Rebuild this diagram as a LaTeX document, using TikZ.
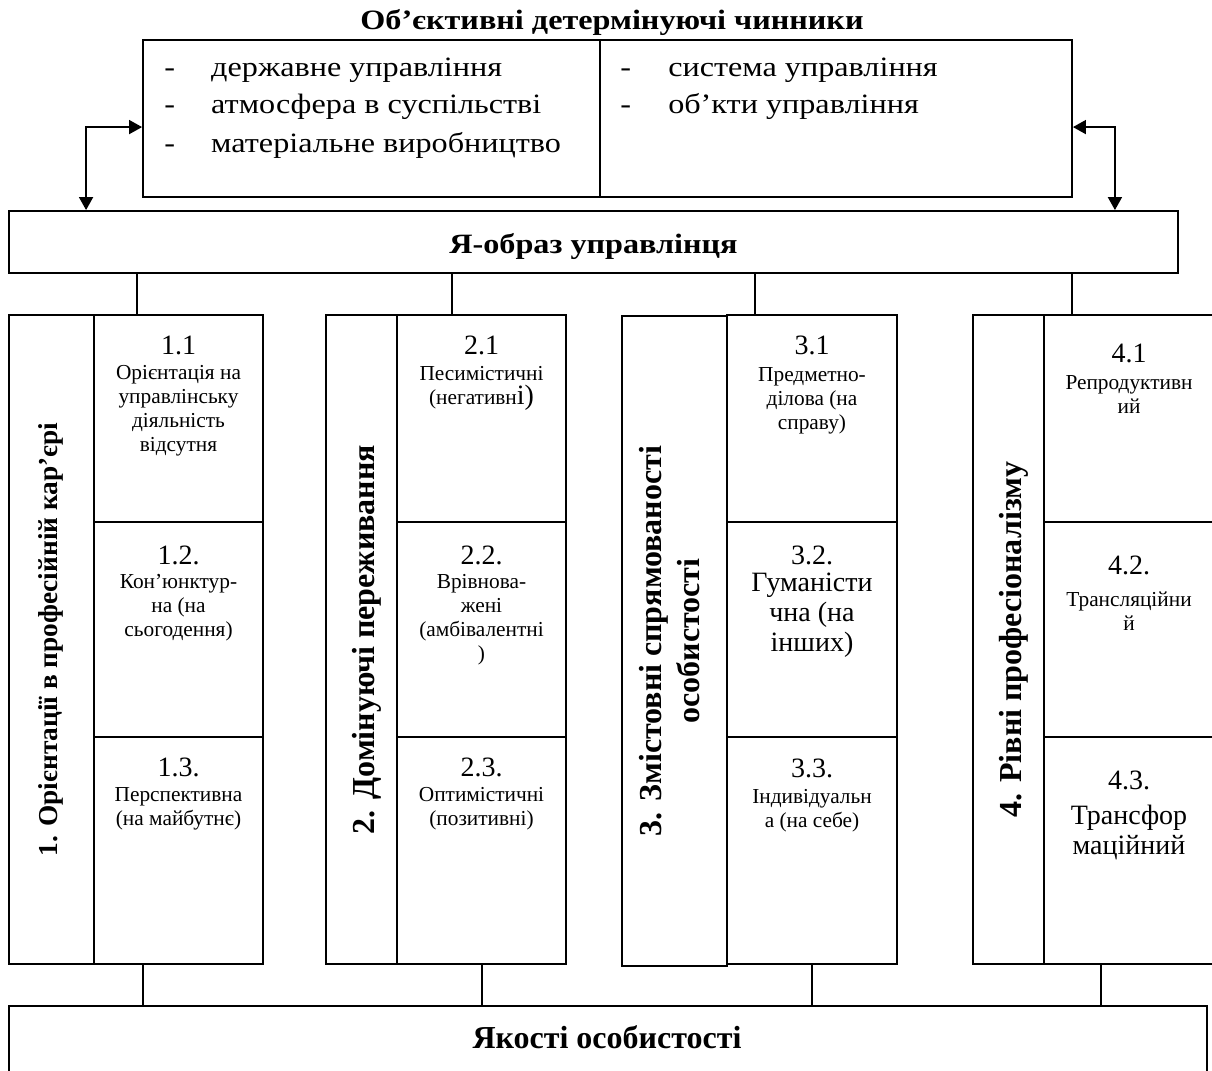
\documentclass[tikz,border=0pt]{standalone}
\usepackage{fontspec}
\setmainfont{Liberation Serif}
\newfontfamily\wideserif[FakeStretch=1.15]{Liberation Serif}
\usetikzlibrary{arrows.meta,fit,calc}
\newcommand{\fNum}{\fontsize{21pt}{24pt}\selectfont}
\newcommand{\fLarge}{\fontsize{24pt}{29pt}\selectfont}
\newcommand{\fWide}{\wideserif\fontsize{21pt}{24pt}\selectfont}
\newcommand{\fDesc}{\fontsize{16pt}{18pt}\selectfont}
\newcommand{\fBig}{\fontsize{21pt}{22.5pt}\selectfont}
\begin{document}
\begin{tikzpicture}[x=0.75pt,y=-0.75pt,
  box/.style={draw, line width=1.4pt, inner sep=0pt, fit={#1}},
  conn/.style={line width=1.3pt},
  arr/.style={line width=1.3pt, {Triangle[length=9.75pt,width=10.5pt]}-{Triangle[length=9.75pt,width=10.5pt]}},
  item/.style={inner sep=0pt, font=\fWide, anchor=base west},
  widehead/.style={inner sep=0pt, font=\fWide\bfseries, anchor=base},
  head/.style={inner sep=0pt, font=\bfseries\fLarge, anchor=base},
  num/.style={inner sep=0pt, font=\fNum},
  desc/.style={anchor=north, inner sep=0pt, align=center, font=\fDesc},
  bigdesc/.style={anchor=north, inner sep=0pt, align=center, font=\fBig},
  vlab/.style={rotate=90, inner sep=0pt, align=center, font=\bfseries\fLarge}]
\useasboundingbox (0,0) rectangle (1212,1070);
\clip (0,0) rectangle (1212,1070);
\fill[white] (0,0) rectangle (1212,1070);

% title
\node[widehead] (title) at (612,30) {Об’єктивні детермінуючі чинники};

% top box
\node[box={(143,40) (600,197)}] (topL) {};
\node[box={(600,40) (1072,197)}] (topR) {};
\node[item] (l1) at (164,77) {\makebox[35.25pt][l]{-}державне управління};
\node[item] (l2) at (164,114) {\makebox[35.25pt][l]{-}атмосфера в суспільстві};
\node[item] (l3) at (164,152) {\makebox[35.25pt][l]{-}матеріальне виробництво};
\node[item] (r1) at (620,77) {\makebox[36pt][l]{-}система управління};
\node[item] (r2) at (620,114) {\makebox[36pt][l]{-}об’кти управління};

% self-image box
\node[box={(9,211) (1178,273)}] (ya) {};
\node[widehead] (yat) at (593.5,253) {Я-образ управлінця};

\draw[arr] ($(topL.north west)+(0,88)$) -| ($(ya.north west)+(78,0)$);
\draw[arr] ($(topR.north east)+(0,88)$) -| ($(ya.north east)+(-64,0)$);

% column 1
\node[box={(9,315) (94,964)}] (L1) {};
\node[box={(94,315) (263,522)}] (S11) {};
\node[box={(94,522) (263,737)}] (S12) {};
\node[box={(94,737) (263,964)}] (S13) {};
\node[vlab, font=\bfseries\fontsize{20.5pt}{24pt}\selectfont] (T1) at ($(L1.center)+(-1,0)$) {1. Орієнтації в професійній кар’єрі};
\node[num] (N11) at (178.5,345) {1.1};
\node[desc] (D11) at (178.5,365) {Орієнтація на\\управлінську\\діяльність\\відсутня};
\node[num] (N12) at (178.5,555) {1.2.};
\node[desc] (D12) at (178.5,574) {Кон’юнктур-\\на (на\\сьогодення)};
\node[num] (N13) at (178.5,767) {1.3.};
\node[desc] (D13) at (178.5,787) {Перспективна\\(на майбутнє)};

% column 2
\node[box={(326,315) (397,964)}] (L2) {};
\node[box={(397,315) (566,522)}] (S21) {};
\node[box={(397,522) (566,737)}] (S22) {};
\node[box={(397,737) (566,964)}] (S23) {};
\node[vlab] (T2) at ($(L2.center)+(5,0)$) {2. Домінуючі переживання};
\node[num] (N21) at (481.5,345) {2.1};
\node[desc] (D21) at (481.5,366) {Песимістичні\\(негативн{\fNum і)}};
\node[num] (N22) at (481.5,555) {2.2.};
\node[desc] (D22) at (481.5,574) {Врівнова-\\жені\\(амбівалентні\\)};
\node[num] (N23) at (481.5,767) {2.3.};
\node[desc] (D23) at (481.5,787) {Оптимістичні\\(позитивні)};

% column 3
\node[box={(622,316) (727,966)}] (L3) {};
\node[box={(727,315) (897,522)}] (S31) {};
\node[box={(727,522) (897,737)}] (S32) {};
\node[box={(727,737) (897,964)}] (S33) {};
\node[vlab] (T3) at ($(L3.center)+(-5,0)$) {3. Змістовні спрямованості\\особистості};
\node[num] (N31) at (812,345) {3.1};
\node[desc] (D31) at (812,367) {Предметно-\\ділова (на\\справу)};
\node[num] (N32) at (812,555) {3.2.};
\node[bigdesc] (D32) at (812,573) {Гуманісти\\чна (на\\інших)};
\node[num] (N33) at (812,768) {3.3.};
\node[desc] (D33) at (812,789) {Індивідуальн\\а (на себе)};

% column 4
\node[box={(973,315) (1044,964)}] (L4) {};
\node[box={(1044,315) (1214,522)}] (S41) {};
\node[box={(1044,522) (1214,737)}] (S42) {};
\node[box={(1044,737) (1214,964)}] (S43) {};
\node[vlab] (T4) at ($(L4.center)+(5,0)$) {4. Рівні професіоналізму};
\node[num] (N41) at (1129,353) {4.1};
\node[desc] (D41) at (1129,375) {Репродуктивн\\ий};
\node[num] (N42) at (1129,565) {4.2.};
\node[desc] (D42) at (1129,592) {Трансляційни\\й};
\node[num] (N43) at (1129,780) {4.3.};
\node[bigdesc] (D43) at (1129,805) {Трансфор\\маційний};

% bottom box
\node[box={(9,1006) (1207,1100)}] (yq) {};
\node[head] (yqt) at (607,1048) {Якості особистості};

% connectors from self-image box
\draw[conn] (ya.south -| 137,0) -- (S11.north -| 137,0);
\draw[conn] (ya.south -| 452,0) -- (S21.north -| 452,0);
\draw[conn] (ya.south -| 755,0) -- (S31.north -| 755,0);
\draw[conn] (ya.south -| 1072,0) -- (S41.north -| 1072,0);
% connectors to bottom box
\draw[conn] (S13.south -| 143,0) -- (yq.north -| 143,0);
\draw[conn] (S23.south -| 482,0) -- (yq.north -| 482,0);
\draw[conn] (S33.south -| 812,0) -- (yq.north -| 812,0);
\draw[conn] (S43.south -| 1101,0) -- (yq.north -| 1101,0);
\end{tikzpicture}
\end{document}
